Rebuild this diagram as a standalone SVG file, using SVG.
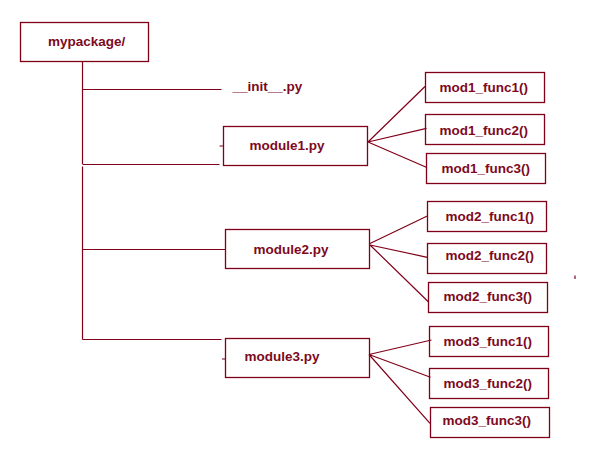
<svg xmlns="http://www.w3.org/2000/svg" width="589" height="476" viewBox="0 0 589 476">
<style>
.box{fill:none;stroke:#80001a;stroke-width:1.3}
.ln{fill:none;stroke:#80001a;stroke-width:1.2}
.t{font-family:"Liberation Sans",Arial,sans-serif;font-weight:bold;font-size:13.5px;fill:#7d0a1e}
</style>
<rect width="589" height="476" fill="#fff"/>
<g id="connectors">
<path class="ln" d="M82.5 61.5V164M82.5 166.5V339.5"/>
<path class="ln" d="M82.5 89.5H221.5"/>
<path class="ln" d="M82.5 164.5H219.5M219.5 146H223"/>
<path class="ln" d="M82.5 249.5H225.5"/>
<path class="ln" d="M82.5 339.5H221.5M222 359H225.5"/>
<path class="ln" d="M368 142L425 86.5M368 142L426.5 128.3M368 142L426.3 167.3"/>
<path class="ln" d="M370 243.5L427.3 216M370 245L427.3 257.3M370 245L428.3 301.7"/>
<path class="ln" d="M369 354.5L431.5 340M369 354.5L430.5 377.3M369 354.5L430 423.3"/>
<path class="ln" d="M575 275.5V279"/>
</g>
<g id="mypackage"><rect class="box" x="20.5" y="22.5" width="128" height="39"/><text class="t" x="48" y="46">mypackage/</text></g>
<g id="init"><text class="t" x="232.5" y="90.5">__init__.py</text></g>
<g id="module1"><rect class="box" x="223.5" y="126.5" width="144" height="39"/><text class="t" x="249.5" y="150">module1.py</text></g>
<g id="module2"><rect class="box" x="225.5" y="229.5" width="144" height="39"/><text class="t" x="253.5" y="254">module2.py</text></g>
<g id="module3"><rect class="box" x="225.5" y="338.5" width="144" height="39"/><text class="t" x="244.5" y="361">module3.py</text></g>
<g id="mod1_func1"><rect class="box" x="425.5" y="72.5" width="119" height="30"/><text class="t" x="439.5" y="91.5">mod1_func1()</text></g>
<g id="mod1_func2"><rect class="box" x="425.5" y="114.5" width="119" height="30"/><text class="t" x="439.5" y="134.5">mod1_func2()</text></g>
<g id="mod1_func3"><rect class="box" x="426.5" y="153.5" width="119" height="30"/><text class="t" x="441.5" y="173">mod1_func3()</text></g>
<g id="mod2_func1"><rect class="box" x="427.5" y="201.5" width="119" height="30"/><text class="t" x="445.5" y="221">mod2_func1()</text></g>
<g id="mod2_func2"><rect class="box" x="427.5" y="243.5" width="119" height="30"/><text class="t" x="445.5" y="260">mod2_func2()</text></g>
<g id="mod2_func3"><rect class="box" x="428.5" y="282.5" width="119" height="30"/><text class="t" x="443.5" y="301">mod2_func3()</text></g>
<g id="mod3_func1"><rect class="box" x="429.5" y="326.5" width="119" height="30"/><text class="t" x="443.5" y="346">mod3_func1()</text></g>
<g id="mod3_func2"><rect class="box" x="429.5" y="368.5" width="119" height="30"/><text class="t" x="443.5" y="388">mod3_func2()</text></g>
<g id="mod3_func3"><rect class="box" x="430.5" y="407.5" width="119" height="30"/><text class="t" x="442.5" y="424.5">mod3_func3()</text></g>
</svg>
